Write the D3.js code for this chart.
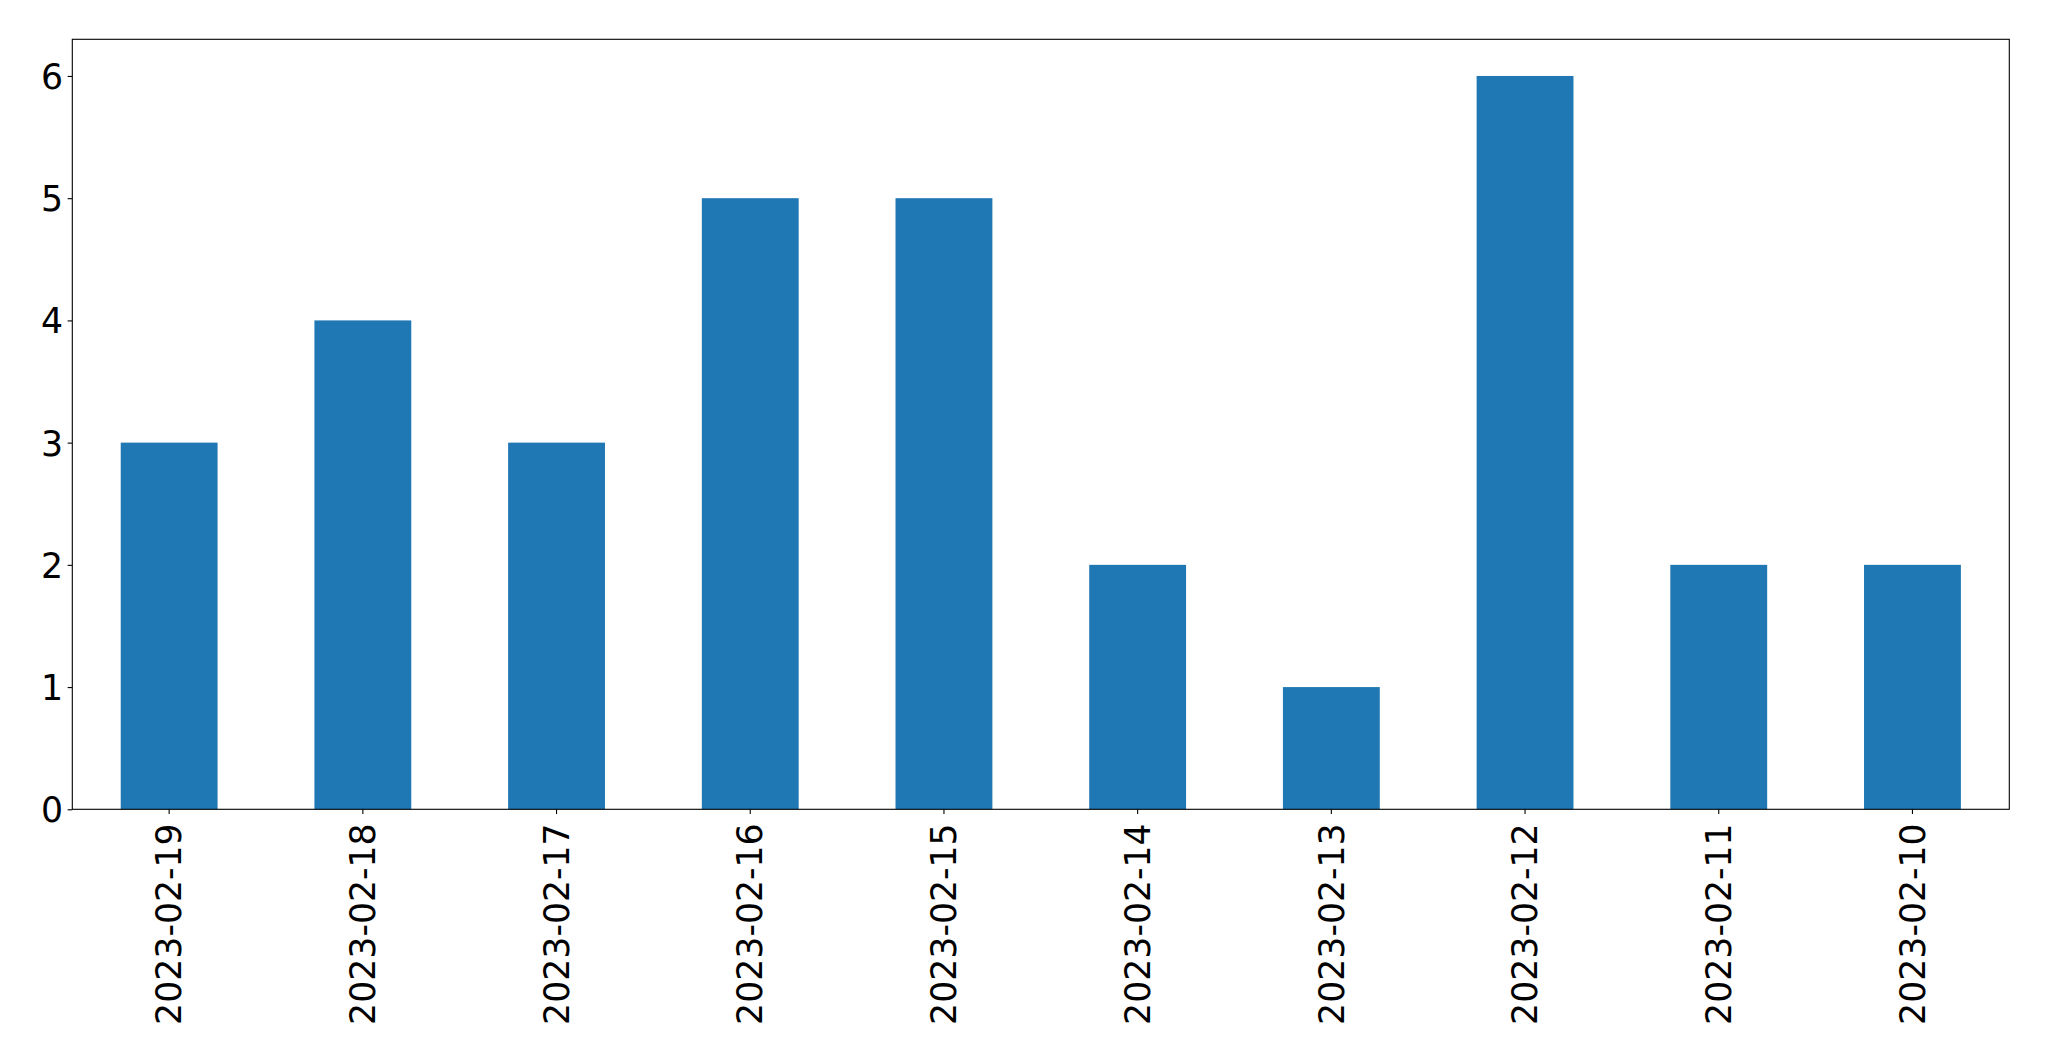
<!DOCTYPE html>
<html><head><meta charset="utf-8">
<script src="https://cdn.jsdelivr.net/npm/d3@7"></script>
<style>body{margin:0;background:#fff}svg{display:block}</style>
</head><body>
<script>
const categories = ["2023-02-19","2023-02-18","2023-02-17","2023-02-16","2023-02-15","2023-02-14","2023-02-13","2023-02-12","2023-02-11","2023-02-10"];
const values = [3,4,3,5,5,2,1,6,2,2];
const yTicks = [0,1,2,3,4,5,6];

const W = 2049, H = 1061;
const m = {left:72.3, right:2009.3, top:39.3, bottom:809.3};
const svg = d3.select("body").append("svg").attr("width",W).attr("height",H);

const x = d3.scaleBand().domain(categories).range([m.left, m.right]).paddingInner(0.5).paddingOuter(0.25);
const y = d3.scaleLinear().domain([0, 6.3]).range([m.bottom, m.top]);

svg.selectAll("rect.bar").data(categories).enter().append("rect")
  .attr("class","bar")
  .attr("x", d => x(d))
  .attr("width", x.bandwidth())
  .attr("y", (d,i) => y(values[i]))
  .attr("height", (d,i) => y(0) - y(values[i]))
  .attr("fill", "#1f77b4");

const font = "DejaVu Sans";
const fs = 34.7;

const yAxis = d3.axisLeft(y).tickValues(yTicks).tickFormat(d3.format("d")).tickSize(4.67).tickPadding(4.67);
const gy = svg.append("g").attr("transform",`translate(${m.left},0)`).call(yAxis);
gy.select(".domain").remove();
gy.selectAll("line").attr("stroke","#000").attr("stroke-width",1.1);
gy.selectAll("text").attr("font-family",font).attr("font-size",fs).attr("fill","#000").attr("dy","0.36em");

const xAxis = d3.axisBottom(x).tickSize(4.67).tickPadding(0);
const gx = svg.append("g").attr("transform",`translate(0,${m.bottom})`).call(xAxis);
gx.select(".domain").remove();
gx.selectAll("line").attr("stroke","#000").attr("stroke-width",1.1);
gx.selectAll("text")
  .attr("font-family",font).attr("font-size",fs).attr("fill","#000")
  .attr("text-anchor","end")
  .attr("transform","translate(0,14) rotate(-90)")
  .attr("x",0).attr("y",0).attr("dy","0.35em");

svg.append("rect").attr("x",m.left).attr("y",m.top)
  .attr("width",m.right-m.left).attr("height",m.bottom-m.top)
  .attr("fill","none").attr("stroke","#000").attr("stroke-width",1.1);
</script>
</body></html>
